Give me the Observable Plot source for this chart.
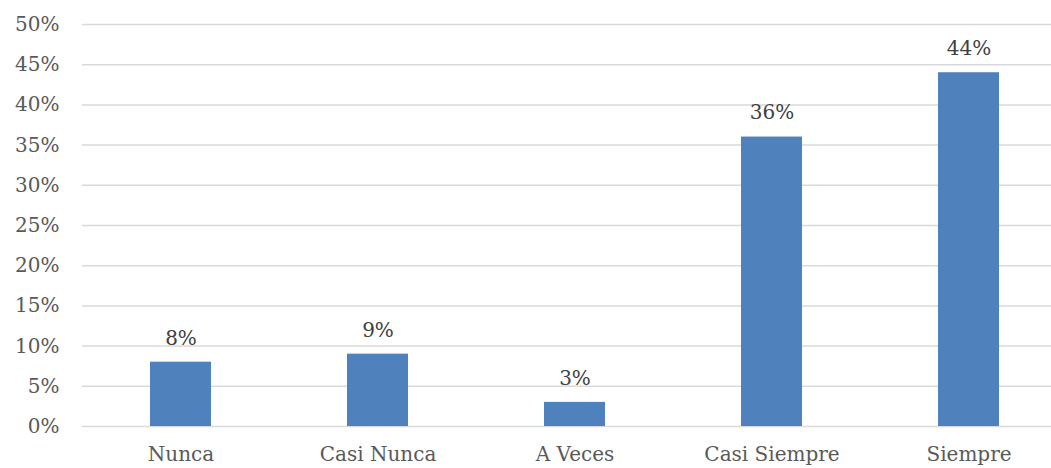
<!DOCTYPE html>
<html><head><meta charset="utf-8">
<script src="https://cdn.jsdelivr.net/npm/d3@7"></script>
<script src="https://cdn.jsdelivr.net/npm/@observablehq/plot@0.6"></script>
<style>body{margin:0;background:#fff}</style>
</head><body><div id="chart"></div>
<script>
const categories = ["Nunca", "Casi Nunca", "A Veces", "Casi Siempre", "Siempre"];
const values = [0.08, 0.09, 0.03, 0.36, 0.44];
const yTicks = [0, 0.05, 0.10, 0.15, 0.20, 0.25, 0.30, 0.35, 0.40, 0.45, 0.50];

const data = categories.map((c, i) => ({cat: c, v: values[i]}));
const fmt = d3.format(".0%");

const chart = Plot.plot({
  width: 1051,
  height: 468,
  marginLeft: 82,
  marginRight: 0,
  marginTop: 24,
  marginBottom: 42,
  style: {fontFamily: "DejaVu Serif", fontSize: "20px", background: "#fff"},
  x: {domain: categories, range: [82, 1067], paddingInner: 0.69, paddingOuter: 0.345, align: 0.5, label: null},
  y: {domain: [0, 0.5], range: [426, 24], label: null},
  marks: [
    Plot.ruleY(yTicks, {stroke: "#d9d9d9", strokeWidth: 1.5}),
    Plot.barY(data, {x: "cat", y: "v", fill: "#4f81bd"}),
    Plot.text(data, {x: "cat", y: "v", text: d => fmt(d.v), dy: -24, fill: "#404040", fontSize: 20}),
    Plot.axisY(yTicks, {tickSize: 0, tickPadding: 23, tickFormat: fmt, fill: "#595959", fontSize: 20, label: null}),
    Plot.axisX({tickSize: 0, tickPadding: 20, fill: "#595959", fontSize: 20, label: null})
  ]
});
document.getElementById("chart").appendChild(chart);
</script></body></html>
